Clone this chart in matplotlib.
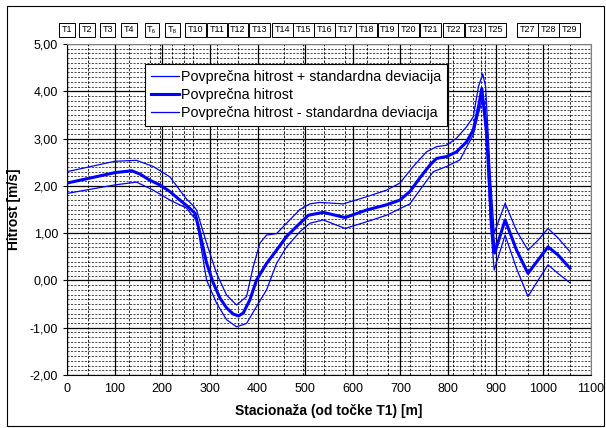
import numpy as np
import matplotlib
matplotlib.use('Agg')
import matplotlib.pyplot as plt
from matplotlib.ticker import MultipleLocator, FuncFormatter
from matplotlib.patches import Rectangle
import matplotlib.transforms as mtransforms

plt.rcParams['font.family'] = ['Liberation Sans', 'DejaVu Sans']

# ── Podatki (odčitani s slike) ──
x_mean = [0, 55, 100, 136, 153, 174, 195, 216, 237, 254, 269, 279, 293, 307, 321, 335,
          349, 360, 370, 384, 398, 419, 440, 461, 482, 507, 538, 584, 629, 671, 699,
          720, 741, 762, 776, 797, 818, 839, 853, 864, 871, 881, 891, 898, 920, 944,
          968, 989, 1010, 1031, 1056]
v_mean = [2.06, 2.18, 2.28, 2.32, 2.25, 2.12, 2.02, 1.88, 1.70, 1.56, 1.42, 1.00, 0.37,
          -0.05, -0.37, -0.58, -0.71, -0.75, -0.69, -0.41, 0.01, 0.36, 0.64, 0.93, 1.14,
          1.38, 1.44, 1.33, 1.49, 1.60, 1.70, 1.88, 2.17, 2.44, 2.58, 2.62, 2.72, 2.93,
          3.18, 3.67, 4.06, 3.12, 1.28, 0.58, 1.28, 0.64, 0.15, 0.43, 0.71, 0.54, 0.26]

x_upper = [0, 100, 146, 181, 216, 251, 265, 272, 293, 314, 335, 356, 377, 391, 405, 419,
           440, 461, 489, 510, 531, 580, 629, 671, 699, 727, 755, 776, 797, 818, 839,
           853, 864, 873, 879, 889, 897, 920, 944, 968, 989, 1010, 1031, 1056]
v_upper = [2.30, 2.52, 2.54, 2.41, 2.19, 1.72, 1.58, 1.49, 0.79, 0.15, -0.31, -0.52, -0.34,
           0.29, 0.79, 0.96, 0.99, 1.21, 1.50, 1.62, 1.65, 1.62, 1.77, 1.91, 2.06, 2.41,
           2.72, 2.83, 2.86, 3.01, 3.25, 3.46, 4.10, 4.37, 4.10, 2.20, 1.00, 1.63, 1.05,
           0.64, 0.85, 1.10, 0.90, 0.61]

x_lower = [0, 100, 146, 181, 216, 251, 265, 272, 293, 314, 335, 356, 377, 398, 419, 440,
           461, 489, 510, 538, 584, 629, 671, 720, 769, 797, 825, 853, 864, 873, 879,
           889, 897, 920, 944, 968, 989, 1010, 1031, 1056]
v_lower = [1.84, 2.02, 2.08, 1.91, 1.70, 1.53, 1.35, 1.28, 0.01, -0.48, -0.83, -0.98, -0.91,
           -0.55, -0.20, 0.36, 0.71, 1.03, 1.21, 1.28, 1.10, 1.24, 1.38, 1.62, 2.30, 2.41,
           2.55, 3.08, 3.53, 3.85, 3.60, 1.20, 0.22, 0.96, 0.25, -0.34, 0.00, 0.33, 0.15,
           -0.05]

# oznake točk nad grafom
tocke = ['T1', 'T2', 'T3', 'T4', 'T\u2086', 'T\u2088', 'T10', 'T11', 'T12', 'T13', 'T14',
         'T15', 'T16', 'T17', 'T18', 'T19', 'T20', 'T21', 'T22', 'T23', 'T25', 'T27',
         'T28', 'T29']
tocke_x = [0, 42, 85, 130, 178, 221, 270, 315, 359, 405, 452, 496, 540, 585, 629, 674,
           718, 763, 811, 857, 900, 967, 1011, 1056]

# navpične pomožne črte (stacionaže)
stac_x = [45, 130, 175, 195, 220, 245, 265, 315, 360, 400, 455, 495, 540, 584, 629, 674,
          720, 763, 800, 810, 853, 870, 878, 920, 968, 1010, 1057]

fig = plt.figure(figsize=(6.06, 4.28), dpi=100)
ax = fig.add_axes([0.1106, 0.1238, 0.8644, 0.7733])

# mreža
for xv in stac_x:
    ax.axvline(xv, color='black', lw=0.6, ls=(0, (3, 2)), zorder=1)
for yv in np.arange(-2.0, 5.0, 0.1):
    if abs(yv - round(yv)) > 1e-6:
        ax.axhline(yv, color='black', lw=0.5, ls=(0, (3, 2)), zorder=1)
ax.grid(which='major', color='black', lw=0.9, ls='-', zorder=1.5)

ax.plot(x_upper, v_upper, color='#0000FF', lw=0.9, zorder=3,
        label='Povprečna hitrost + standardna deviacija')
ax.plot(x_mean, v_mean, color='#0000FF', lw=2.2, zorder=4,
        label='Povprečna hitrost')
ax.plot(x_lower, v_lower, color='#0000FF', lw=0.9, zorder=3,
        label='Povprečna hitrost - standardna deviacija')

ax.set_xlim(0, 1100)
ax.set_ylim(-2, 5)
ax.xaxis.set_major_locator(MultipleLocator(100))
ax.yaxis.set_major_locator(MultipleLocator(1))
ax.yaxis.set_major_formatter(FuncFormatter(lambda v, p: f'{v:.2f}'.replace('.', ',')))
ax.tick_params(labelsize=9, length=3, width=0.8, direction='out')
ax.tick_params(axis='x', length=0, pad=6)

for s in ['top', 'right']:
    ax.spines[s].set_color('#808080')
for s in ['left', 'bottom']:
    ax.spines[s].set_color('black')

ax.set_xlabel('Stacionaža (od točke T1) [m]', fontsize=10, fontweight='bold', labelpad=6)
ax.set_ylabel('Hitrost [m/s]', fontsize=10, fontweight='bold', labelpad=6)

leg = ax.legend(loc='upper left', bbox_to_anchor=(0.149, 0.94), fontsize=10.3,
                frameon=True, fancybox=False, framealpha=1, edgecolor='black',
                handlelength=2.0, handletextpad=0.1, borderpad=0.4, labelspacing=0.3,
                borderaxespad=0)
leg.get_frame().set_linewidth(0.8)
leg.set_zorder(10)

trans = mtransforms.blended_transform_factory(ax.transData, ax.transAxes)
for lab, xv in zip(tocke, tocke_x):
    ax.text(xv, 1.043, lab, transform=trans, ha='center', va='center', fontsize=6.5,
            bbox=dict(boxstyle='square,pad=0.3', fc='white', ec='black', lw=0.7),
            clip_on=False)

# okvir grafikona
fig.patches.append(Rectangle((0.012, 0.005), 0.985, 0.98, transform=fig.transFigure,
                             fill=False, ec='black', lw=0.8))

fig.savefig('out.png', dpi=100)
